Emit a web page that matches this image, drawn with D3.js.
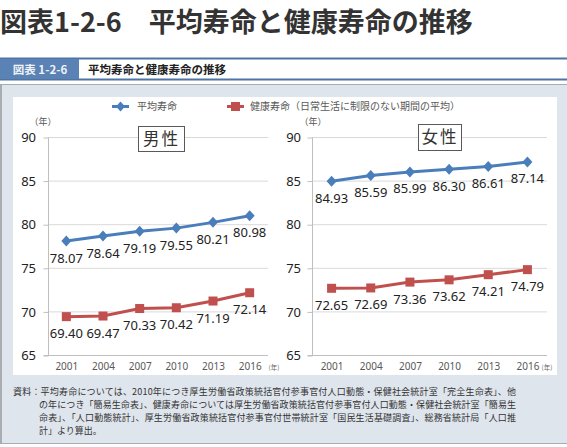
<!DOCTYPE html>
<html><head><meta charset="utf-8">
<script src="https://cdn.jsdelivr.net/npm/d3@7"></script>
<style>
html,body{margin:0;padding:0;background:#fff;}
svg{display:block;font-family:"Noto Sans CJK JP","Noto Sans",sans-serif;}
</style></head>
<body>
<svg id="c" width="567" height="447"></svg>
<script>
const years = ["2001","2004","2007","2010","2013","2016"];
const maleLife = [78.07,78.64,79.19,79.55,80.21,80.98];
const maleHealthy = [69.40,69.47,70.33,70.42,71.19,72.14];
const femaleLife = [84.93,85.59,85.99,86.30,86.61,87.14];
const femaleHealthy = [72.65,72.69,73.36,73.62,74.21,74.79];
const yTicks = [65,70,75,80,85,90];
const seriesNames = ["平均寿命","健康寿命（日常生活に制限のない期間の平均）"];
const panelTitles = ["男性","女性"];
const titleText = "図表1-2-6　平均寿命と健康寿命の推移";
const figNo = "図表 1-2-6";
const figTitle = "平均寿命と健康寿命の推移";
const footLines = [
 "資料：平均寿命については、2010年につき厚生労働省政策統括官付参事官付人口動態・保健社会統計室「完全生命表」、他",
 "の年につき「簡易生命表」、健康寿命については厚生労働省政策統括官付参事官付人口動態・保健社会統計室「簡易生",
 "命表」、「人口動態統計」、厚生労働省政策統括官付参事官付世帯統計室「国民生活基礎調査」、総務省統計局「人口推",
 "計」より算出。"
];

const BLUE="#4a7ebb", RED="#c0504d";
const svg = d3.select("#c");

// big title
svg.append("text").attr("x",0).attr("y",32).attr("font-size",27).attr("font-weight","bold")
  .attr("fill","#333").text(titleText);

// header bar
svg.append("rect").attr("x",0).attr("y",58).attr("width",567).attr("height",22).attr("fill","#fff");
svg.append("rect").attr("x",0).attr("y",57.5).attr("width",567).attr("height",2).attr("fill","#4e74a6");
svg.append("rect").attr("x",0).attr("y",78.5).attr("width",567).attr("height",2).attr("fill","#4e74a6");
svg.append("rect").attr("x",0).attr("y",59).attr("width",79).attr("height",20).attr("fill","#5a82b4");
svg.append("text").attr("x",40).attr("y",73.5).attr("text-anchor","middle").attr("font-size",11.5)
  .attr("font-weight","bold").attr("fill","#eef3f9").text(figNo);
svg.append("text").attr("x",88).attr("y",73.5).attr("font-size",11.5)
  .attr("font-weight","bold").attr("fill","#222").text(figTitle);

// outer panel
svg.append("rect").attr("x",0).attr("y",84).attr("width",567).attr("height",360).attr("fill","#dfe5ec");
svg.append("line").attr("x1",0).attr("x2",567).attr("y1",84.5).attr("y2",84.5).attr("stroke","#a9adb2");
svg.append("line").attr("x1",1).attr("x2",1).attr("y1",84).attr("y2",444).attr("stroke","#a9adb2").attr("stroke-width",2);
svg.append("line").attr("x1",0).attr("x2",567).attr("y1",443.5).attr("y2",443.5).attr("stroke","#a9adb2");
// inner white
svg.append("rect").attr("x",13).attr("y",97).attr("width",544).attr("height",278).attr("fill","#fff");

// legend
const lg = svg.append("g");
lg.append("line").attr("x1",112).attr("x2",129).attr("y1",106.5).attr("y2",106.5).attr("stroke",BLUE).attr("stroke-width",3);
lg.append("path").attr("d","M0,-5L4.5,0L0,5L-4.5,0Z").attr("transform","translate(120.5,106.5)").attr("fill",BLUE);
lg.append("text").attr("x",137).attr("y",110).attr("font-size",10).attr("fill","#595959").text(seriesNames[0]);
lg.append("line").attr("x1",227).attr("x2",244).attr("y1",106.5).attr("y2",106.5).attr("stroke",RED).attr("stroke-width",3);
lg.append("rect").attr("x",231).attr("y",102).attr("width",9).attr("height",9).attr("fill",RED);
lg.append("text").attr("x",250).attr("y",110).attr("font-size",10).attr("fill","#595959").text(seriesNames[1]);

// panels
const y = d3.scaleLinear().domain([65,90]).range([355,137]);
const panels = [
  {x0:48, x1:268, labX:36, unitX:43, box:[138,126,46,25], life:maleLife, healthy:maleHealthy, title:panelTitles[0], xunit:274},
  {x0:312, x1:547, labX:301, unitX:313, box:[418,124,43,26], life:femaleLife, healthy:femaleHealthy, title:panelTitles[1], xunit:547}
];
panels.forEach(p=>{
  const g = svg.append("g");
  const x = d3.scalePoint().domain(years).range([p.x0,p.x1]).padding(0.5);
  // gridlines
  g.selectAll(".grid").data(yTicks).enter().append("line")
    .attr("x1",p.x0).attr("x2",p.x1).attr("y1",d=>y(d)+0.5).attr("y2",d=>y(d)+0.5)
    .attr("stroke",d=>d===65?"#bfbfbf":"#d9d9d9").attr("stroke-width",1);
  // y axis
  const ya = g.append("g").attr("transform",`translate(${p.x0+0.5},0.5)`)
    .call(d3.axisLeft(y).tickValues(yTicks).tickSize(5).tickPadding(7));
  ya.select(".domain").attr("stroke","#bfbfbf").attr("d",`M-5,${y(65)}H0V${y(90)}`);
  ya.selectAll(".tick line").attr("stroke","#bfbfbf");
  ya.selectAll(".tick text").attr("font-size",13).attr("fill","#222")
    .attr("font-family","'Noto Sans',sans-serif").attr("x",p.labX-p.x0-0.5);
  // x axis
  const xa = g.append("g").attr("transform",`translate(0,${y(65)+0.5})`)
    .call(d3.axisBottom(x).tickSize(0).tickPadding(7));
  xa.select(".domain").remove();
  xa.selectAll(".tick text").attr("font-size",10).attr("fill","#595959")
    .attr("font-family","'Noto Sans',sans-serif");
  // units
  g.append("text").attr("x",p.unitX).attr("y",124.5).attr("text-anchor","middle").attr("font-size",9)
    .attr("fill","#555").text("（年）");
  g.append("text").attr("x",p.xunit).attr("y",370).attr("text-anchor","middle").attr("font-size",6.5)
    .attr("fill","#666").text("(年)");
  // title box
  g.append("rect").attr("x",p.box[0]+0.5).attr("y",p.box[1]+0.5).attr("width",p.box[2]).attr("height",p.box[3])
    .attr("fill","#fff").attr("stroke","#595959");
  g.append("text").attr("x",p.box[0]+p.box[2]/2+0.5).attr("y",p.box[1]+p.box[3]/2+6).attr("text-anchor","middle")
    .attr("font-size",16.5).attr("letter-spacing",2).attr("fill","#333").text(p.title);
  // lines
  const line = d3.line().x((d,i)=>x(years[i])).y(d=>y(d));
  g.append("path").datum(p.healthy).attr("d",line).attr("fill","none").attr("stroke",RED).attr("stroke-width",3);
  g.append("path").datum(p.life).attr("d",line).attr("fill","none").attr("stroke",BLUE).attr("stroke-width",3);
  g.selectAll(".sq").data(p.healthy).enter().append("rect")
    .attr("x",(d,i)=>x(years[i])-4.5).attr("y",d=>y(d)-4.5).attr("width",9).attr("height",9).attr("fill",RED);
  g.selectAll(".dm").data(p.life).enter().append("path")
    .attr("d","M0,-5.5L5,0L0,5.5L-5,0Z").attr("transform",(d,i)=>`translate(${x(years[i])},${y(d)})`).attr("fill",BLUE);
  // labels
  [p.life,p.healthy].forEach(arr=>{
    g.selectAll(null).data(arr).enter().append("text")
      .attr("x",(d,i)=>x(years[i])).attr("y",d=>y(d)+21.5).attr("text-anchor","middle")
      .attr("font-size",13).attr("font-family","'Noto Sans',sans-serif").attr("fill","#222")
      .text(d=>d.toFixed(2));
  });
});

// footer
footLines.forEach((t,i)=>{
  const tx = svg.append("text").attr("x",i===0?13:39).attr("y",395+i*13).attr("font-size",9).attr("fill","#333").text(t);
  if(i<3) tx.attr("textLength",i===0?503:477).attr("lengthAdjust","spacing");
});
</script>
</body></html>
